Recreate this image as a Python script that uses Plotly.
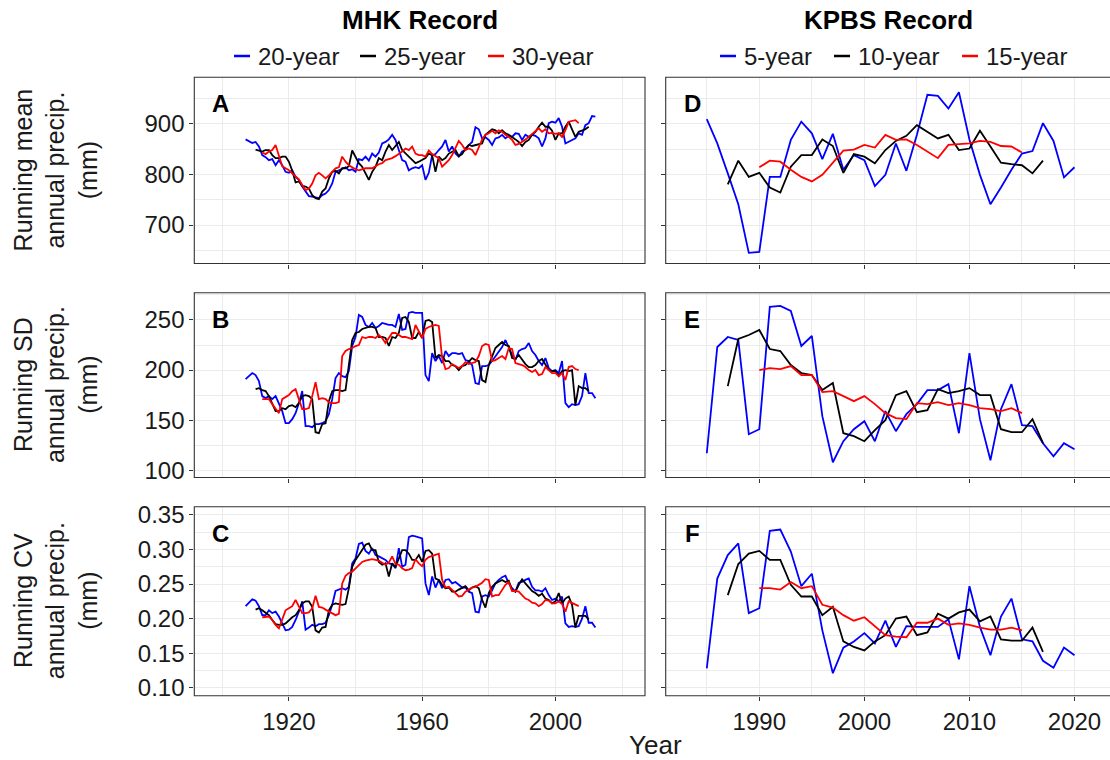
import plotly.graph_objects as go

# ---------------- data ----------------
mhk_start_20, mhk_start_25, mhk_start_30 = 1907, 1910, 1912
kpbs_start_5, kpbs_start_10, kpbs_start_15 = 1985, 1987, 1990

mhk_mean_20 = [869,866,862,864,855,838,834,828,830,818,
               828,818,805,803,808,795,789,776,766,757,
               756,755,753,759,762,769,782,805,808,812,
               814,808,810,805,830,828,835,827,841,835,
               843,861,864,869,878,868,848,828,825,808,
               812,814,812,818,789,803,838,840,848,855,
               868,845,855,841,835,845,848,858,864,893,
               889,871,873,868,858,871,873,878,871,876,
               874,881,880,868,878,874,878,876,871,855,
               871,901,904,902,911,894,861,864,868,871,
               881,878,897,901,915,914]
mhk_mean_25 = [849,847,845,848,848,838,832,832,835,835,
               825,807,784,786,777,776,772,759,753,751,
               766,772,792,805,807,802,812,812,816,847,
               835,822,815,802,789,805,815,832,828,845,
               858,848,856,864,848,841,834,828,822,825,
               828,832,841,838,805,835,828,832,841,845,
               848,836,840,851,858,856,858,860,861,878,
               884,889,887,881,887,881,878,874,869,864,
               856,864,868,878,884,894,902,894,894,886,
               868,881,881,894,904,889,874,884,887,889,
               894]
mhk_mean_30 = [843,840,845,848,858,838,816,812,808,802,
               795,790,779,769,772,782,798,803,798,792,
               798,805,812,814,835,825,818,814,810,808,
               810,812,812,812,816,820,822,828,830,832,
               836,840,845,851,848,855,841,838,838,835,
               847,840,836,832,815,822,828,838,851,866,
               858,848,851,848,838,855,869,878,881,886,
               881,887,884,878,874,868,858,860,864,869,
               874,880,884,891,884,889,881,882,880,881,
               874,887,904,906,907,901]

mhk_sd_20 = [191,194,197,195,189,174,172,174,171,174,
             166,159,147,147,151,157,167,179,144,144,
             143,146,146,147,149,156,171,192,197,194,
             193,199,224,233,255,253,245,243,247,242,
             244,247,246,245,245,243,256,240,241,257,
             258,257,257,257,195,189,217,209,214,207,
             219,214,217,217,216,217,210,209,205,187,
             186,204,204,205,209,214,219,223,230,222,
             215,210,219,221,222,227,219,215,209,205,
             212,202,199,200,197,209,167,163,166,165,
             166,174,197,177,177,172]
mhk_sd_25 = [181,182,180,179,174,167,159,159,162,161,
             164,165,163,167,174,175,174,171,138,137,
             146,147,169,179,180,180,179,180,204,230,
             237,238,241,242,243,243,242,233,233,232,
             224,233,232,237,252,253,248,232,232,238,
             232,249,250,248,212,215,214,209,209,205,
             204,200,204,205,209,212,210,209,190,188,
             205,214,222,225,228,225,224,212,211,215,
             210,206,203,203,205,209,211,205,200,199,
             199,194,199,200,199,200,165,184,182,182,
             179]
mhk_sd_30 = [171,171,171,166,161,157,171,173,175,179,
             181,171,161,161,162,174,188,171,172,171,
             168,167,167,168,214,219,221,222,224,225,
             233,232,233,233,232,235,232,227,232,237,
             237,235,233,233,232,231,245,238,232,241,
             243,244,245,244,212,201,202,206,204,202,
             204,208,206,207,208,214,224,226,225,209,
             210,212,214,211,222,221,207,206,205,203,
             200,198,200,195,196,203,200,197,197,194,
             197,190,203,204,201,200]

mhk_cv_20 = [0.218,0.223,0.228,0.226,0.218,0.205,0.205,0.212,0.208,0.210,
             0.203,0.193,0.183,0.184,0.188,0.198,0.210,0.225,0.184,0.187,
             0.191,0.189,0.192,0.192,0.194,0.205,0.220,0.240,0.242,0.244,
             0.242,0.246,0.280,0.287,0.308,0.310,0.298,0.294,0.302,0.292,
             0.290,0.287,0.285,0.280,0.279,0.273,0.302,0.275,0.278,0.318,
             0.320,0.319,0.318,0.316,0.251,0.234,0.261,0.245,0.256,0.244,
             0.256,0.257,0.251,0.253,0.249,0.245,0.245,0.239,0.237,0.210,
             0.209,0.232,0.234,0.232,0.241,0.251,0.256,0.260,0.262,0.251,
             0.244,0.239,0.252,0.253,0.256,0.258,0.246,0.241,0.241,0.239,
             0.244,0.234,0.227,0.229,0.225,0.232,0.193,0.188,0.189,0.188,
             0.189,0.200,0.218,0.194,0.194,0.187]
mhk_cv_25 = [0.213,0.215,0.212,0.208,0.205,0.198,0.192,0.191,0.191,0.193,
             0.198,0.202,0.205,0.212,0.222,0.225,0.225,0.217,0.183,0.180,
             0.187,0.188,0.212,0.220,0.222,0.221,0.220,0.221,0.244,0.275,
             0.285,0.292,0.299,0.307,0.309,0.299,0.299,0.282,0.278,0.280,
             0.261,0.280,0.275,0.287,0.299,0.299,0.294,0.285,0.285,0.292,
             0.282,0.298,0.299,0.294,0.258,0.256,0.249,0.244,0.245,0.239,
             0.239,0.242,0.245,0.247,0.241,0.245,0.247,0.244,0.227,0.216,
             0.237,0.246,0.251,0.253,0.256,0.253,0.255,0.241,0.239,0.249,
             0.257,0.251,0.245,0.240,0.237,0.233,0.236,0.229,0.227,0.222,
             0.225,0.237,0.222,0.229,0.232,0.220,0.187,0.204,0.204,0.204,
             0.199]
mhk_cv_30 = [0.202,0.202,0.203,0.198,0.191,0.186,0.200,0.212,0.215,0.218,
             0.227,0.217,0.208,0.208,0.209,0.215,0.233,0.217,0.216,0.213,
             0.210,0.208,0.205,0.207,0.251,0.262,0.266,0.268,0.273,0.278,
             0.282,0.284,0.285,0.286,0.285,0.284,0.281,0.278,0.281,0.290,
             0.279,0.278,0.273,0.270,0.271,0.273,0.286,0.280,0.276,0.285,
             0.289,0.291,0.292,0.294,0.256,0.245,0.246,0.242,0.237,0.232,
             0.233,0.239,0.242,0.245,0.246,0.249,0.252,0.257,0.256,0.232,
             0.234,0.234,0.241,0.249,0.253,0.240,0.240,0.239,0.234,0.229,
             0.227,0.223,0.222,0.218,0.221,0.227,0.226,0.222,0.222,0.225,
             0.221,0.210,0.225,0.223,0.220,0.218]

kpbs_mean_5 = [909,861,802,741,645,647,795,795,868,904,
               881,830,880,809,838,828,777,799,861,807,
               878,957,955,930,962,869,799,741,774,809,
               841,846,901,866,794,814]
kpbs_mean_10 = [780,827,795,803,774,764,815,838,838,869,
                856,803,840,835,822,848,866,876,897,884,
                871,878,848,851,886,855,823,820,818,802,
                827]
kpbs_mean_15 = [814,827,825,809,795,786,799,822,847,849,
                858,853,878,868,869,858,845,832,858,860,
                861,866,864,856,855,843]

kpbs_sd_5 = [117,223,233,230,136,141,263,264,259,224,
             234,154,108,129,141,149,129,159,139,156,
             166,180,180,186,137,217,151,110,161,186,
             145,144,127,114,127,121]
kpbs_sd_10 = [184,231,235,240,221,219,205,197,195,180,
              187,137,134,129,140,150,175,179,158,160,
              181,177,179,182,175,175,141,138,138,151,
              127]
kpbs_sd_15 = [200,202,201,204,195,195,178,179,174,169,
              174,166,157,152,151,167,166,168,165,167,
              165,162,161,159,162,157]

kpbs_cv_5 = [0.128,0.258,0.292,0.309,0.208,0.215,0.327,0.329,0.297,0.247,
             0.265,0.183,0.121,0.158,0.167,0.179,0.164,0.197,0.159,0.189,
             0.188,0.188,0.188,0.199,0.141,0.247,0.188,0.147,0.203,0.229,
             0.170,0.167,0.139,0.129,0.158,0.147]
kpbs_cv_10 = [0.234,0.279,0.294,0.298,0.285,0.285,0.249,0.232,0.232,0.205,
              0.217,0.167,0.159,0.154,0.167,0.176,0.200,0.203,0.176,0.180,
              0.207,0.200,0.209,0.213,0.196,0.203,0.170,0.168,0.168,0.187,
              0.152]
kpbs_cv_15 = [0.244,0.244,0.242,0.253,0.244,0.247,0.220,0.216,0.205,0.197,
              0.202,0.189,0.176,0.174,0.173,0.194,0.194,0.200,0.191,0.193,
              0.191,0.187,0.184,0.184,0.187,0.183]

mhk_labels = ["20-year", "25-year", "30-year"]
kpbs_labels = ["5-year", "10-year", "15-year"]
series_colors = ["#0000FF", "#000000", "#FF0000"]
row_titles = ["Running mean<br>annual precip.<br>(mm)",
              "Running SD<br>annual precip.<br>(mm)",
              "Running CV<br>annual precip.<br>(mm)"]
panel_letters = [["A", "D"], ["B", "E"], ["C", "F"]]

# ---------------- layout geometry (pixels) ----------------
W, H = 1110, 760
FONT = "Liberation Sans, Arial, sans-serif"
def fx(p): return p / W
def fy(p): return 1 - p / H

col_px = [(194.3, 645.0), (665.7, 1110.0)]
row_px = [(77.3, 263.5), (292.7, 477.5), (506.7, 695.7)]
x_ranges = [[1891.6, 2026.9], [1981.09, 2023.38]]
x_ticks = [dict(tick0=1920, dtick=40, minor=20), dict(tick0=1990, dtick=10, minor=5)]
y_ranges = [[624, 991.6], [92.8, 277.2], [0.0884, 0.362]]
y_ticks = [dict(tick0=700, dtick=100, minor=50, fmt=None),
           dict(tick0=100, dtick=50, minor=25, fmt=None),
           dict(tick0=0.10, dtick=0.05, minor=0.025, fmt=".2f")]

data_rows = [
    [[(mhk_start_20, mhk_mean_20), (mhk_start_25, mhk_mean_25), (mhk_start_30, mhk_mean_30)],
     [(kpbs_start_5, kpbs_mean_5), (kpbs_start_10, kpbs_mean_10), (kpbs_start_15, kpbs_mean_15)]],
    [[(mhk_start_20, mhk_sd_20), (mhk_start_25, mhk_sd_25), (mhk_start_30, mhk_sd_30)],
     [(kpbs_start_5, kpbs_sd_5), (kpbs_start_10, kpbs_sd_10), (kpbs_start_15, kpbs_sd_15)]],
    [[(mhk_start_20, mhk_cv_20), (mhk_start_25, mhk_cv_25), (mhk_start_30, mhk_cv_30)],
     [(kpbs_start_5, kpbs_cv_5), (kpbs_start_10, kpbs_cv_10), (kpbs_start_15, kpbs_cv_15)]],
]

GRID = "#EBEBEB"
TICK_FONT = 24
fig = go.Figure()
layout = dict(width=W, height=H, margin=dict(l=0, r=0, t=0, b=0),
              paper_bgcolor="white", plot_bgcolor="white", showlegend=False,
              font=dict(family=FONT, color="#1a1a1a"))
shapes, annotations = [], []

k = 0
for r in range(3):
    for c in range(2):
        k += 1
        xa = "x" if k == 1 else f"x{k}"
        ya = "y" if k == 1 else f"y{k}"
        xkey = "xaxis" if k == 1 else f"xaxis{k}"
        ykey = "yaxis" if k == 1 else f"yaxis{k}"
        for (start, vals), col in zip(data_rows[r][c], series_colors):
            fig.add_trace(go.Scatter(x=list(range(start, start + len(vals))), y=vals,
                                     mode="lines", line=dict(color=col, width=1.8),
                                     xaxis=xa, yaxis=ya, hoverinfo="x+y"))
        x0p, x1p = col_px[c]
        y0p, y1p = row_px[r]
        xt = x_ticks[c]
        layout[xkey] = dict(domain=[fx(x0p), fx(x1p)], range=x_ranges[c], anchor=ya,
                            tickmode="linear", tick0=xt["tick0"], dtick=xt["dtick"],
                            showgrid=True, gridcolor=GRID, gridwidth=1.4, zeroline=False,
                            minor=dict(dtick=xt["minor"], showgrid=True, gridcolor=GRID,
                                       gridwidth=0.7, ticks=""),
                            ticks="outside", ticklen=4, tickwidth=1.1, tickcolor="#333333",
                            showticklabels=(r == 2), tickfont=dict(size=TICK_FONT, color="#1a1a1a"),
                            showline=False, automargin=False, fixedrange=True)
        yt = y_ticks[r]
        ydict = dict(domain=[fy(y1p), fy(y0p)], range=y_ranges[r], anchor=xa,
                     tickmode="linear", tick0=yt["tick0"], dtick=yt["dtick"],
                     showgrid=True, gridcolor=GRID, gridwidth=1.4, zeroline=False,
                     minor=dict(dtick=yt["minor"], showgrid=True, gridcolor=GRID,
                                gridwidth=0.7, ticks=""),
                     ticks="outside", ticklen=4, tickwidth=1.1, tickcolor="#333333",
                     showticklabels=(c == 0), tickfont=dict(size=TICK_FONT, color="#1a1a1a"),
                     showline=False, automargin=False, fixedrange=True)
        if yt["fmt"]:
            ydict["tickformat"] = yt["fmt"]
        layout[ykey] = ydict
        # panel border
        shapes.append(dict(type="rect", xref="paper", yref="paper",
                           x0=fx(x0p), x1=fx(x1p + (6 if c == 1 else 0)),
                           y0=fy(y1p), y1=fy(y0p),
                           line=dict(color="#333333", width=1.1), fillcolor="rgba(0,0,0,0)",
                           layer="above"))
        annotations.append(dict(xref="paper", yref="paper", x=fx(x0p + 26.5), y=fy(y0p + 26.5),
                                text=f"<b>{panel_letters[r][c]}</b>", showarrow=False,
                                xanchor="center", yanchor="middle",
                                font=dict(size=24, color="black", family=FONT)))
    # row title
    annotations.append(dict(xref="paper", yref="paper", x=fx(55), y=fy((row_px[r][0] + row_px[r][1]) / 2),
                            text=row_titles[r], textangle=-90, showarrow=False,
                            xanchor="center", yanchor="middle", align="center",
                            font=dict(size=25, color="#1a1a1a", family=FONT)))

# column titles
annotations.append(dict(xref="paper", yref="paper", x=fx(419.6), y=fy(20), text="<b>MHK Record</b>",
                        showarrow=False, xanchor="center", yanchor="middle",
                        font=dict(size=26, color="black", family=FONT)))
annotations.append(dict(xref="paper", yref="paper", x=fx(888), y=fy(20), text="<b>KPBS Record</b>",
                        showarrow=False, xanchor="center", yanchor="middle",
                        font=dict(size=26, color="black", family=FONT)))
# x axis title
annotations.append(dict(xref="paper", yref="paper", x=fx(655), y=fy(745), text="Year",
                        showarrow=False, xanchor="center", yanchor="middle",
                        font=dict(size=26, color="#1a1a1a", family=FONT)))

# legends (key lines + labels)
legend_text_left = [256, 382, 510, 742, 856, 984]
legend_labels = mhk_labels + kpbs_labels
legend_colors = series_colors + series_colors
LEG_Y = 56
for tx, lab, col in zip(legend_text_left, legend_labels, legend_colors):
    shapes.append(dict(type="line", xref="paper", yref="paper", x0=fx(tx - 22), x1=fx(tx - 6),
                       y0=fy(LEG_Y), y1=fy(LEG_Y), line=dict(color=col, width=2.5)))
    annotations.append(dict(xref="paper", yref="paper", x=fx(tx), y=fy(LEG_Y), text=lab,
                            showarrow=False, xanchor="left", yanchor="middle",
                            font=dict(size=24, color="#1a1a1a", family=FONT)))

layout["shapes"] = shapes
layout["annotations"] = annotations
fig.update_layout(**layout)
fig.write_html("out.html")
